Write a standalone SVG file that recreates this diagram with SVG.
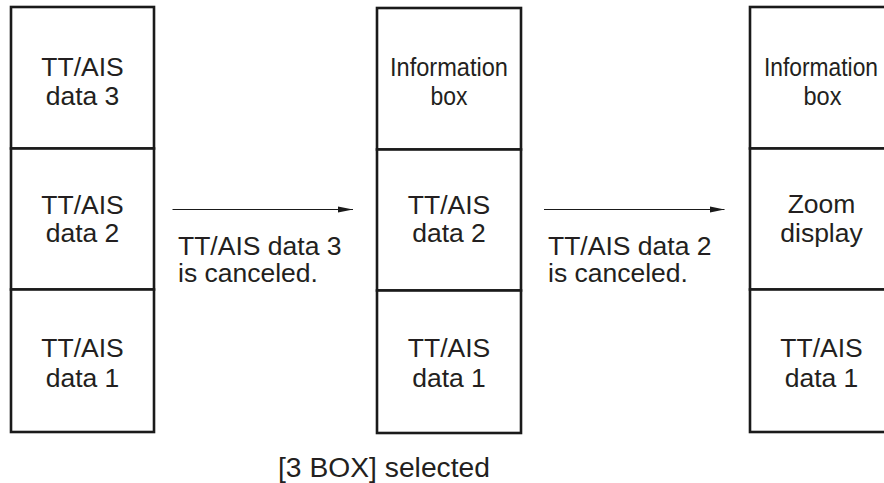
<svg xmlns="http://www.w3.org/2000/svg" width="884" height="483" viewBox="0 0 884 483">
<defs>
<style>
.cell{fill:#fff;stroke:#1a1a1a;stroke-width:2.6}
.t{font-family:"Liberation Sans",Arial,sans-serif;font-size:26.5px;fill:#231f20;text-anchor:middle}
.lbl{font-family:"Liberation Sans",Arial,sans-serif;font-size:26.5px;fill:#231f20}
.conn{stroke:#1a1a1a;stroke-width:1.2;fill:none}
</style>
<marker id="ah" markerUnits="userSpaceOnUse" markerWidth="15" markerHeight="8" refX="15" refY="4" orient="auto">
<path d="M0,1 L15,4 L0,7 Z" fill="#1a1a1a"/>
</marker>
</defs>
<rect width="884" height="483" fill="#fff"/>

<g id="box1-data3">
<rect class="cell" x="11" y="7" width="143" height="141.5"/>
<text class="t"><tspan x="82.5" y="76">TT/AIS</tspan><tspan x="82.5" y="105">data 3</tspan></text>
</g>
<g id="box1-data2">
<rect class="cell" x="11" y="148.5" width="143" height="141"/>
<text class="t"><tspan x="82.5" y="214">TT/AIS</tspan><tspan x="82.5" y="242">data 2</tspan></text>
</g>
<g id="box1-data1">
<rect class="cell" x="11" y="289.5" width="143" height="142.5"/>
<text class="t"><tspan x="82.5" y="357">TT/AIS</tspan><tspan x="82.5" y="387">data 1</tspan></text>
</g>

<g id="box2-info">
<rect class="cell" x="377" y="8" width="144" height="141.5"/>
<text class="t"><tspan x="449" y="76" textLength="118" lengthAdjust="spacingAndGlyphs">Information</tspan><tspan x="449" y="105" textLength="37" lengthAdjust="spacingAndGlyphs">box</tspan></text>
</g>
<g id="box2-data2">
<rect class="cell" x="377" y="149.5" width="144" height="141"/>
<text class="t"><tspan x="449" y="214">TT/AIS</tspan><tspan x="449" y="242">data 2</tspan></text>
</g>
<g id="box2-data1">
<rect class="cell" x="377" y="290.5" width="144" height="142.5"/>
<text class="t"><tspan x="449" y="357">TT/AIS</tspan><tspan x="449" y="387">data 1</tspan></text>
</g>

<g id="box3-info">
<rect class="cell" x="750" y="7" width="144" height="141.5"/>
<text class="t"><tspan x="821" y="76" textLength="114" lengthAdjust="spacingAndGlyphs">Information</tspan><tspan x="822.5" y="105" textLength="38" lengthAdjust="spacingAndGlyphs">box</tspan></text>
</g>
<g id="box3-zoom">
<rect class="cell" x="750" y="148.5" width="144" height="141"/>
<text class="t"><tspan x="821.5" y="213">Zoom</tspan><tspan x="821.5" y="242">display</tspan></text>
</g>
<g id="box3-data1">
<rect class="cell" x="750" y="289.5" width="144" height="142.5"/>
<text class="t"><tspan x="821.5" y="357">TT/AIS</tspan><tspan x="821.5" y="387">data 1</tspan></text>
</g>

<g id="connectors">
<line class="conn" x1="172.5" y1="209.5" x2="353" y2="209.5" marker-end="url(#ah)"/>
<line class="conn" x1="544" y1="209.5" x2="724.5" y2="209.5" marker-end="url(#ah)"/>
</g>

<g id="labels">
<text class="lbl"><tspan x="178" y="255">TT/AIS data 3</tspan><tspan x="178" y="282">is canceled.</tspan></text>
<text class="lbl"><tspan x="548" y="255">TT/AIS data 2</tspan><tspan x="548" y="282">is canceled.</tspan></text>
<text class="t" x="384" y="476.5" style="font-size:27px" textLength="212" lengthAdjust="spacingAndGlyphs">[3 BOX] selected</text>
</g>
</svg>
